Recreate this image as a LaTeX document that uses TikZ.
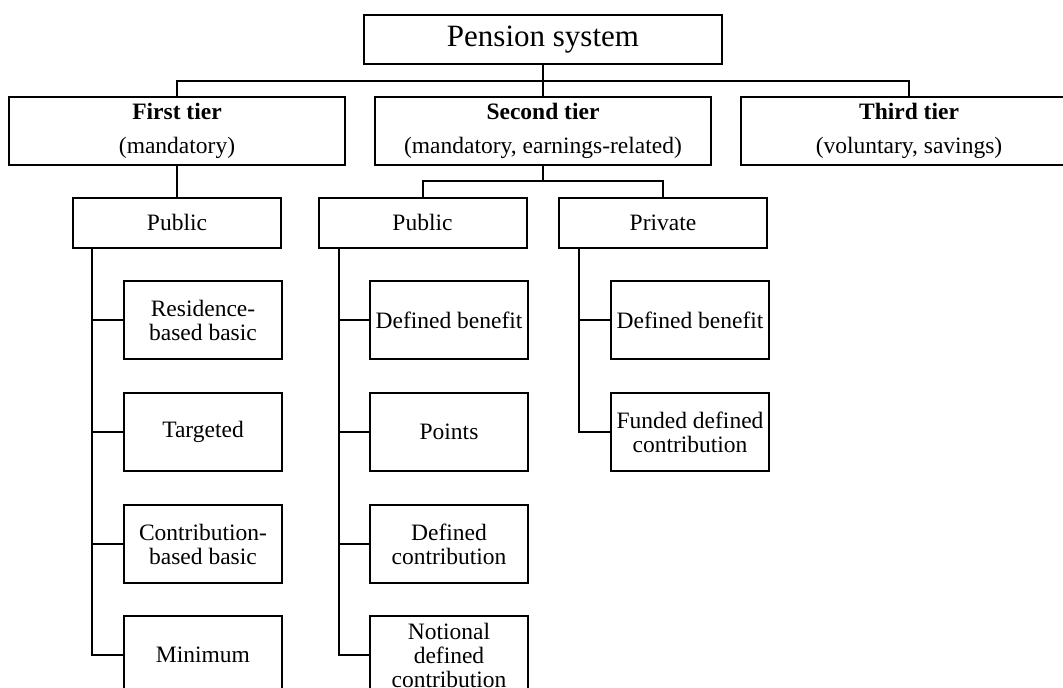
\documentclass[tikz,border=0pt]{standalone}
\usepackage{fontspec}
\setmainfont{Liberation Serif}
\tikzset{
  box/.style={draw, line width=2pt, inner sep=0pt, align=center,
    font=\fontsize{23.5}{24}\selectfont},
  topbox/.style={box, minimum width=358pt, minimum height=49pt, font=\fontsize{31}{32}\selectfont},
  tierbox/.style={box, minimum width=336pt, minimum height=68pt},
  subbox/.style={box, minimum width=208pt, minimum height=50pt},
  leafbox/.style={box, minimum width=158pt, minimum height=78pt},
  conn/.style={line width=2pt},
}
\begin{document}
\begin{tikzpicture}[x=1pt,y=-1pt]
\useasboundingbox (0,0) rectangle (1063,688);
\clip (0,0) rectangle (1063,688);
\node[topbox] (pension) at (543,39.5) {Pension system};
\node[tierbox] (t1) at (177,131) {\textbf{First tier}\\[10pt](mandatory)};
\node[tierbox] (t2) at (543,131) {\textbf{Second tier}\\[10pt](mandatory, earnings-related)};
\node[tierbox] (t3) at (909,131) {\textbf{Third tier}\\[10pt](voluntary, savings)};
\coordinate (bus1) at (543,81);
\coordinate (bus2) at (543,181);
\node[subbox] (p1) at (177,222.5) {Public};
\node[subbox] (p2) at (422.5,222.5) {Public};
\node[subbox] (pr) at (663,222.5) {Private};
% first tier leaves
\node[leafbox] (a1) at (203,320) {Residence-\\based basic};
\node[leafbox] (a2) at (203,432) {Targeted};
\node[leafbox] (a3) at (203,544) {Contribution-\\based basic};
\node[leafbox] (a4) at (203,655) {Minimum};
% second tier public leaves
\node[leafbox] (b1) at (449,320) {Defined benefit};
\node[leafbox] (b2) at (449,432) {Points};
\node[leafbox] (b3) at (449,544) {Defined\\contribution};
\node[leafbox] (b4) at (449,655) {Notional\\defined\\contribution};
% private leaves
\node[leafbox] (c1) at (690,320) {Defined benefit};
\node[leafbox] (c2) at (690,432) {Funded defined\\contribution};
% connectors
\draw[conn] (pension.south) -- (t2.north);
\draw[conn] (t1.north) |- (bus1) -| (t3.north);
\draw[conn] (t1.south) -- (p1.north);
\draw[conn] (t2.south) -- (bus2);
\draw[conn] (p2.north) |- (bus2) -| (pr.north);
\draw[conn] ([xshift=20pt]p1.south west) |- (a4.west);
\foreach \n in {a1,a2,a3} \draw[conn] ([xshift=20pt]p1.south west |- \n.west) -- (\n.west);
\draw[conn] ([xshift=21pt]p2.south west) |- (b4.west);
\foreach \n in {b1,b2,b3} \draw[conn] ([xshift=21pt]p2.south west |- \n.west) -- (\n.west);
\draw[conn] ([xshift=21pt]pr.south west) |- (c2.west);
\draw[conn] ([xshift=21pt]pr.south west |- c1.west) -- (c1.west);
\end{tikzpicture}
\end{document}
